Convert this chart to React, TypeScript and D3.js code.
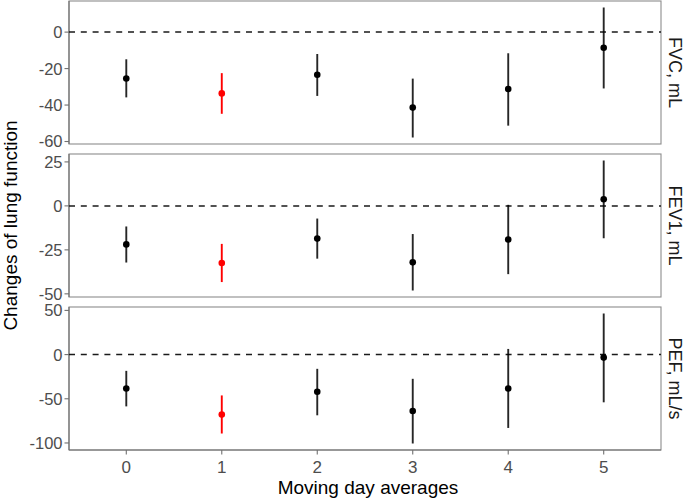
import { useEffect, useRef } from 'react';
import * as d3 from 'd3';

// Moving day average lags
const lags = [0, 1, 2, 3, 4, 5];
const highlightLag = 1;

const panelNames = ["FVC, mL", "FEV1, mL", "PEF, mL/s"];

// estimates and 95% CI per panel
const fvcEst = [-25.4, -33.6, -23.4, -41.4, -31.2, -8.6];
const fvcLo = [-35.8, -44.8, -35.0, -57.8, -51.3, -30.9];
const fvcHi = [-14.9, -22.5, -12.0, -25.5, -11.6, 13.5];

const fev1Est = [-21.9, -32.5, -18.6, -32.1, -19.1, 3.8];
const fev1Lo = [-32.2, -43.3, -30.0, -48.1, -38.8, -18.4];
const fev1Hi = [-11.7, -21.6, -7.2, -16.0, 0.6, 25.8];

const pefEst = [-38.3, -67.9, -42.0, -63.9, -38.3, -3.4];
const pefLo = [-58.6, -89.3, -68.7, -100.6, -83.0, -54.0];
const pefHi = [-18.4, -46.2, -16.1, -27.4, 6.4, 46.5];

const fvcTicks = [-60, -40, -20, 0];
const fev1Ticks = [-50, -25, 0, 25];
const pefTicks = [-100, -50, 0, 50];

export default function App() {
  const svgRef = useRef<SVGSVGElement>(null);

  useEffect(() => {
    document.body.style.margin = "0";
    if (!svgRef.current) return;

    const width = 685;
    const height = 499;
    const left = 69;
    const right = 661;
    const panelTop = 1;
    const panelH = 143;
    const panelStep = 153;
    const font = "'Liberation Sans', Arial, sans-serif";

    const svg = d3.select(svgRef.current);
    svg.selectAll("*").remove();
    svg.attr("width", width).attr("height", height);

    const panels = [
      { name: panelNames[0], est: fvcEst, lo: fvcLo, hi: fvcHi, ticks: fvcTicks },
      { name: panelNames[1], est: fev1Est, lo: fev1Lo, hi: fev1Hi, ticks: fev1Ticks },
      { name: panelNames[2], est: pefEst, lo: pefLo, hi: pefHi, ticks: pefTicks },
    ];

    const x = d3.scaleLinear().domain([-0.6, 5.6]).range([left, right]);

    panels.forEach((p, i) => {
      const top = panelTop + i * panelStep;
      const bottom = top + panelH;
      const lo = Math.min(0, d3.min(p.lo)!);
      const hi = Math.max(0, d3.max(p.hi)!);
      const pad = (hi - lo) * 0.05;
      const y = d3.scaleLinear().domain([lo - pad, hi + pad]).range([bottom, top]);

      const g = svg.append("g");

      // panel background + border
      g.append("rect")
        .attr("x", left).attr("y", top)
        .attr("width", right - left).attr("height", panelH)
        .attr("fill", "white")
        .attr("stroke", "#8c8c8c")
        .attr("stroke-width", 1.1);

      // left axis line
      g.append("line")
        .attr("x1", left).attr("x2", left)
        .attr("y1", top).attr("y2", bottom)
        .attr("stroke", "#707070").attr("stroke-width", 1.1);

      // y ticks
      p.ticks.forEach((t) => {
        g.append("line")
          .attr("x1", left - 4.5).attr("x2", left)
          .attr("y1", y(t)).attr("y2", y(t))
          .attr("stroke", "#707070").attr("stroke-width", 1.1);
        g.append("text")
          .attr("x", left - 6.5)
          .attr("y", y(t))
          .attr("dy", "0.36em")
          .attr("text-anchor", "end")
          .attr("font-family", font)
          .attr("font-size", 16.5)
          .attr("fill", "#4d4d4d")
          .text(t);
      });

      // zero reference line
      g.append("line")
        .attr("x1", left).attr("x2", right)
        .attr("y1", y(0)).attr("y2", y(0))
        .attr("stroke", "#1a1a1a")
        .attr("stroke-width", 1.5)
        .attr("stroke-dasharray", "6,5.8");

      // error bars and points
      lags.forEach((lag, j) => {
        const col = lag === highlightLag ? "#ff0000" : "#000000";
        g.append("line")
          .attr("x1", x(lag)).attr("x2", x(lag))
          .attr("y1", y(p.lo[j])).attr("y2", y(p.hi[j]))
          .attr("stroke", col)
          .attr("stroke-opacity", lag === highlightLag ? 1 : 0.85)
          .attr("stroke-width", 1.9);
        g.append("circle")
          .attr("cx", x(lag)).attr("cy", y(p.est[j]))
          .attr("r", 3.3)
          .attr("fill", col);
      });

      // strip label on the right
      g.append("text")
        .attr("transform", `translate(669, ${(top + bottom) / 2}) rotate(90)`)
        .attr("text-anchor", "middle")
        .attr("font-family", font)
        .attr("font-size", 18)
        .attr("fill", "#1a1a1a")
        .text(p.name);

      // x axis on the last panel
      if (i === panels.length - 1) {
        g.append("line")
          .attr("x1", left).attr("x2", right)
          .attr("y1", bottom).attr("y2", bottom)
          .attr("stroke", "#707070").attr("stroke-width", 1.1);
        lags.forEach((lag) => {
          g.append("line")
            .attr("x1", x(lag)).attr("x2", x(lag))
            .attr("y1", bottom).attr("y2", bottom + 4.5)
            .attr("stroke", "#707070").attr("stroke-width", 1.1);
          g.append("text")
            .attr("x", x(lag))
            .attr("y", bottom + 23)
            .attr("text-anchor", "middle")
            .attr("font-family", font)
            .attr("font-size", 17)
            .attr("fill", "#4d4d4d")
            .text(lag);
        });
      }
    });

    // axis titles
    svg.append("text")
      .attr("x", (left + right) / 2 + 3)
      .attr("y", 494)
      .attr("text-anchor", "middle")
      .attr("font-family", font)
      .attr("font-size", 19)
      .attr("fill", "black")
      .text("Moving day averages");

    svg.append("text")
      .attr("transform", `translate(17, ${(panelTop + panelTop + 2 * panelStep + panelH) / 2}) rotate(-90)`)
      .attr("text-anchor", "middle")
      .attr("font-family", font)
      .attr("font-size", 19)
      .attr("fill", "black")
      .text("Changes of lung function");
  }, []);

  return <svg ref={svgRef} style={{ display: "block" }} />;
}
